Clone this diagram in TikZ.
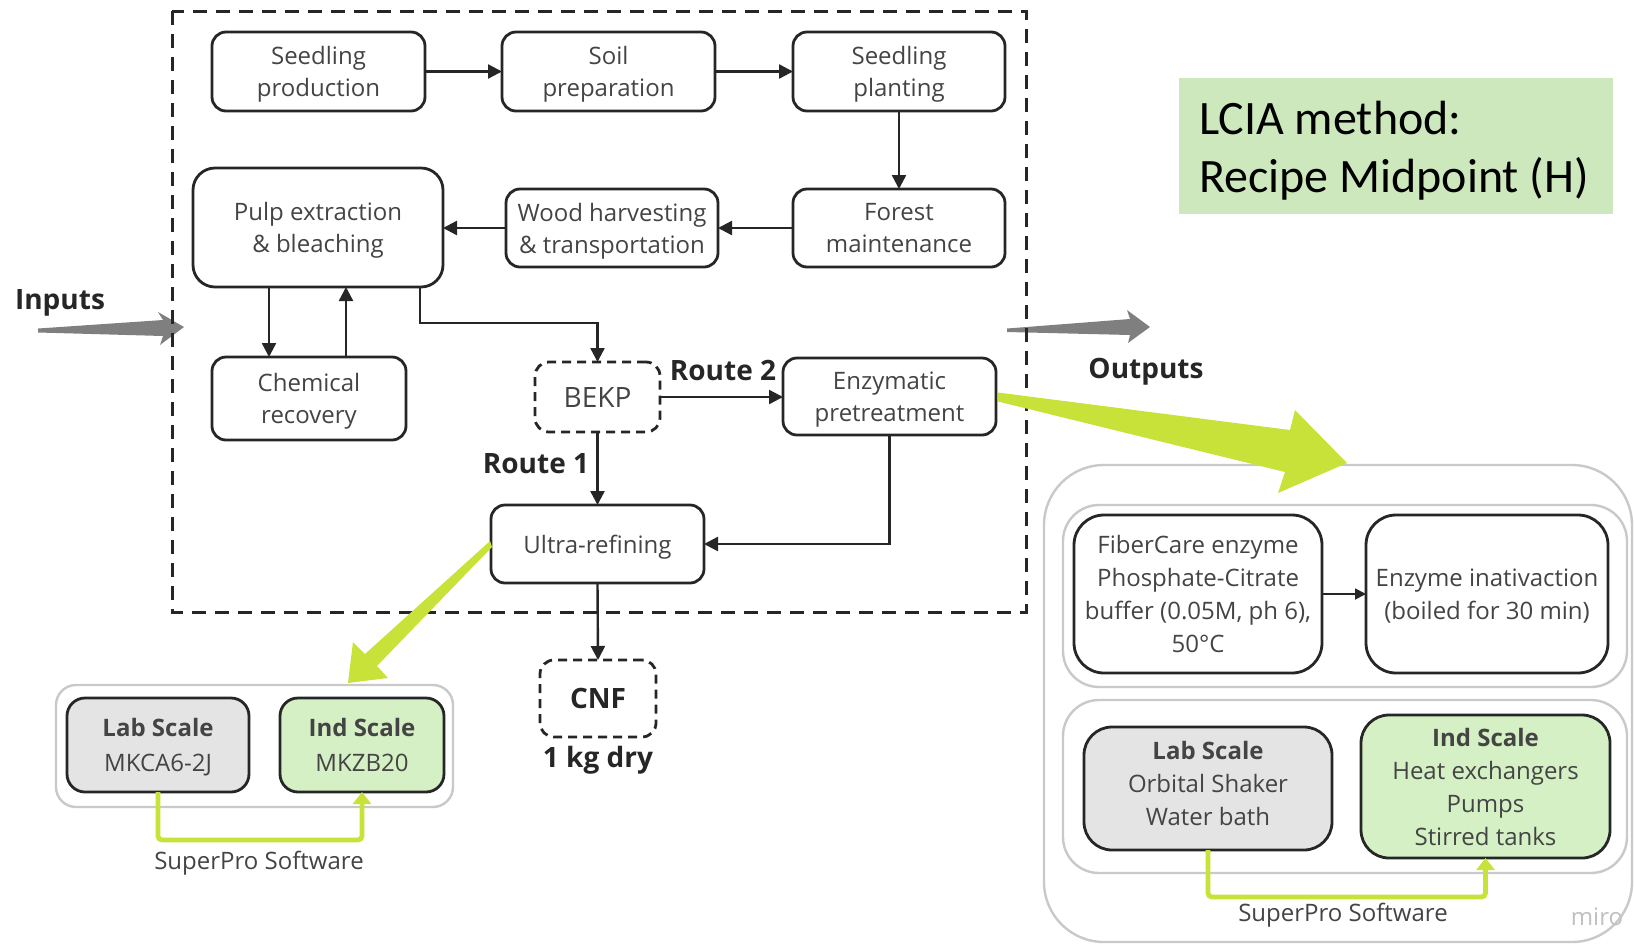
\documentclass[tikz,border=0pt]{standalone}
\usepackage{fontspec}
\setmainfont{Open Sans}
\newfontfamily\lciafont{Carlito}
\usetikzlibrary{arrows.meta,calc}

\definecolor{ink}{HTML}{262626}
\definecolor{txt}{HTML}{444444}
\definecolor{lime}{HTML}{C8E23A}
\definecolor{grayarrow}{HTML}{7F7F7F}
\definecolor{frameline}{HTML}{C9C9C9}
\definecolor{labfill}{HTML}{E4E4E4}
\definecolor{indfill}{HTML}{D4F0C4}
\definecolor{lciafill}{HTML}{CDE8BC}
\definecolor{watermark}{HTML}{C0C0C0}

\begin{document}
\begin{tikzpicture}[x=0.5pt,y=-0.5pt,
  every node/.style={inner sep=0pt, outer sep=0pt},
  proc/.style={draw=ink, line width=1.4pt, rounded corners=7pt, fill=white,
    text=txt, align=center, text depth=0pt, font=\fontsize{12}{16}\selectfont},
  dproc/.style={proc, dash pattern=on 4.5pt off 3pt},
  sized/.style 2 args={minimum width=#1, minimum height=#2},
  conn/.style={draw=ink, line width=1.2pt, -{Triangle[length=7pt,width=7pt]}},
  thinconn/.style={draw=ink, line width=0.9pt, -{Triangle[length=5.5pt,width=5.5pt]}},
  limeconn/.style={draw=lime, line width=2.4pt, rounded corners=2pt,
    -{Triangle[length=6pt,width=9pt]}},
  lbl/.style={text=ink, font=\fontsize{14}{17}\selectfont\bfseries},
  note/.style={text=txt, font=\fontsize{12}{16}\selectfont},
  group/.style={draw=frameline, line width=1.2pt, fill=white},
  scalebox/.style={proc, rounded corners=9pt, font=\fontsize{12}{17.5}\selectfont},
]
\useasboundingbox (0,0) rectangle (1634,944);

% ---------- grouping panels ----------
\node[group, rounded corners=10pt, sized={198.5pt}{61pt}] (leftgroup) at (254.5,746) {};
\node[group, rounded corners=30pt, sized={294pt}{238.5pt}] (rightgroup) at (1338,703.5) {};
\node[group, rounded corners=18pt, sized={282pt}{91pt}] (rowtop) at (1345,596) {};
\node[group, rounded corners=18pt, sized={282pt}{86.5pt}] (rowbottom) at (1345,786.5) {};

% ---------- system boundary flows ----------
\fill[grayarrow] (38,328.5) -- (163,320) -- (158,312) -- (184,327) -- (160,345)
  -- (163,336) -- (38,332.5) -- cycle;
\fill[grayarrow] (1007,328.5) -- (1130,319) -- (1127,310) -- (1150,327) -- (1128,343)
  -- (1130,335) -- (1007,332) -- cycle;
\node[lbl] (inputs) at (60,303) {Inputs};
\node[lbl] (outputs) at (1146,372) {Outputs};

% system boundary
\draw[ink, line width=1.5pt, dash pattern=on 7pt off 4.5pt] (172,11) rectangle (1026,612);

% ---------- process chain ----------
\node[proc, sized={106.5pt}{39.5pt}] (sp) at (318.5,71.5) {Seedling\\production};
\node[proc, sized={106.5pt}{39.5pt}] (soil) at (608.5,71.5) {Soil\\preparation};
\node[proc, sized={106pt}{39.5pt}] (plant) at (899,71.5) {Seedling\\planting};
\node[proc, rounded corners=11pt, sized={125pt}{59.5pt}] (pulp) at (318,227.5) {Pulp extraction\\\& bleaching};
\node[proc, sized={106pt}{39pt}] (wood) at (612,228) {Wood harvesting\\\& transportation};
\node[proc, sized={106pt}{39pt}] (forest) at (899,228) {Forest\\maintenance};
\node[proc, sized={97pt}{41.5pt}] (chem) at (309,398.5) {Chemical\\recovery};
\node[dproc, sized={62.5pt}{35pt}, font=\fontsize{14}{17}\selectfont] (bekp) at (597.5,397) {BEKP};
\node[proc, sized={106.5pt}{38.5pt}] (enz) at (889.5,396.5) {Enzymatic\\pretreatment};
\node[proc, sized={106.5pt}{39pt}] (ultra) at (597.5,544) {Ultra-refining};
\node[dproc, sized={58pt}{38.5pt}, text=ink, font=\fontsize{14}{17}\selectfont\bfseries] (cnf) at (598,698.5) {CNF};

\node[lbl] (route2) at (723,370) {Route 2};
\node[lbl] (route1) at (536,464) {Route 1};
\node[lbl] (kg) at (598,760) {1 kg dry};

\draw[conn] (sp) -- (soil);
\draw[conn] (soil) -- (plant);
\draw[conn] (plant) -- (forest);
\draw[conn] (forest) -- (wood);
\draw[conn] (wood.west) -- (pulp.east |- wood.west);
\draw[conn] ($(pulp.south)+(-49,0)$) -- ($(chem.north)+(-40,0)$);
\draw[conn] ($(chem.north)+(37,0)$) -- ($(pulp.south)+(28,0)$);
\draw[conn] ($(pulp.south)+(102,0)$) -- ++(0,36) -| (bekp.north);
\draw[conn] (bekp.east) -- (enz.west |- bekp.east);
\draw[conn] (bekp.south) -- (ultra.north);
\draw[conn] (enz.south) |- (ultra.east);
\draw[conn] (ultra.south) -- (cnf.north);

% ---------- impact method ----------
\node[fill=lciafill, sized={217pt}{68pt}] (lcia) at (1396,146) {};
\node[anchor=west, align=left, font=\lciafont\fontsize{24}{29}\selectfont] (lciatext)
  at ($(lcia.west)+(20,5)$) {LCIA method:\\Recipe Midpoint (H)};

% ---------- ultra-refining equipment ----------
\node[scalebox, fill=labfill, sized={91pt}{47pt}] (labL) at (158,745)
  {\textbf{Lab Scale}\\MKCA6-2J};
\node[scalebox, fill=indfill, sized={82pt}{47pt}] (indL) at (362,745)
  {\textbf{Ind Scale}\\MKZB20};
\draw[limeconn] (labL.south) -- ++(0,48) -| (indL.south);
\node[note] (softL) at (259,863) {SuperPro Software};

% ---------- enzymatic pretreatment details ----------
\node[proc, rounded corners=15pt, sized={124pt}{79pt}, font=\fontsize{12}{16.5}\selectfont] (fiber) at (1198,594)
  {FiberCare enzyme\\Phosphate-Citrate\\buffer (0.05M, ph 6),\\50°C};
\node[proc, rounded corners=15pt, sized={121pt}{79pt}, font=\fontsize{12}{16.5}\selectfont] (inact) at (1487,594)
  {Enzyme inativaction\\(boiled for 30 min)};
\draw[thinconn] (fiber) -- (inact);

\node[scalebox, rounded corners=14pt, fill=labfill, sized={124pt}{61.5pt}, text depth=5.5pt, font=\fontsize{12}{16.5}\selectfont] (labR) at (1208,788.5)
  {\textbf{Lab Scale}\\Orbital Shaker\\Water bath};
\node[scalebox, rounded corners=14pt, fill=indfill, sized={124.5pt}{71.5pt}, font=\fontsize{12}{16.5}\selectfont] (indR) at (1485.5,786.5)
  {\textbf{Ind Scale}\\Heat exchangers\\Pumps\\Stirred tanks};
\draw[limeconn] (labR.south) -- ++(0,47) -| (indR.south);
\node[note] (softR) at (1343,915) {SuperPro Software};
\node[text=watermark, font=\fontsize{12}{14}\selectfont] (miro) at (1597,917) {miro};

% ---------- scale-up pointers ----------
\fill[lime] ($(enz.east)+(2,-4)$) -- (1290,430) -- (1295,410) -- (1347,463)
  -- (1278,493) -- (1285,472) -- ($(enz.east)+(2,5)$) -- cycle;
\fill[lime] ($(ultra.west)+(-1,-3)$) -- (365,654) -- (353,642) -- (348,683)
  -- (388,678) -- (377,666) -- ($(ultra.west)+(1,3)$) -- cycle;

\end{tikzpicture}
\end{document}
